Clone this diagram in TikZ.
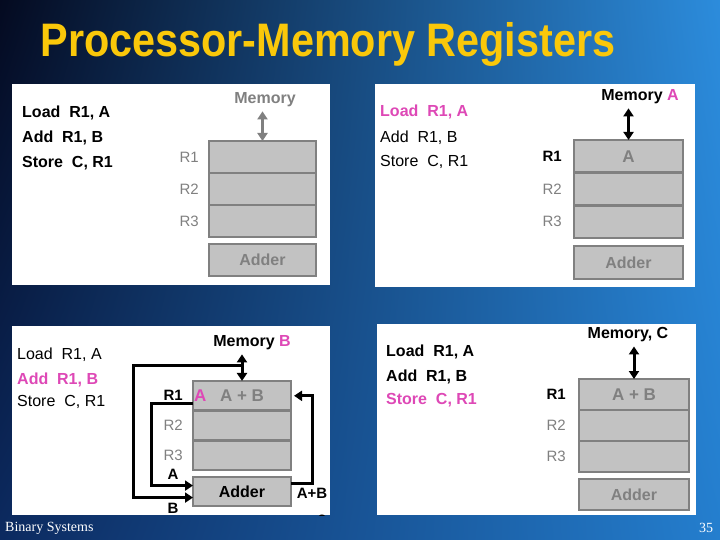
\documentclass[tikz,border=0pt]{standalone}
\usepackage{fontspec}
\setmainfont{Liberation Sans}
\newfontfamily\footfont{Liberation Serif}
\usetikzlibrary{positioning,arrows.meta,shadings}

\definecolor{titleyellow}{RGB}{250,200,10}
\definecolor{hilite}{RGB}{222,72,182}
\definecolor{reggray}{RGB}{128,128,128}
\definecolor{regfill}{RGB}{194,194,194}
\definecolor{bgtl}{RGB}{4,10,32}
\definecolor{bgtr}{RGB}{44,140,220}
\definecolor{bgbl}{RGB}{12,42,96}
\definecolor{bgbr}{RGB}{36,126,206}

\tikzset{
  panel/.style={fill=white},
  regbox/.style={draw=reggray, fill=regfill, line width=2.5pt, outer sep=0pt, inner sep=0pt,
    text=reggray, font=\fontsize{17}{17}\selectfont\bfseries},
  adderbox/.style={regbox, font=\fontsize{16}{16}\selectfont\bfseries},
  reglab/.style={inner sep=1pt, text=reggray, font=\fontsize{15}{15}\selectfont},
  instr/.style={anchor=west, inner sep=0pt, font=\fontsize{16}{16}\selectfont\bfseries},
  memlab/.style={inner sep=1pt, font=\fontsize{16}{16}\selectfont\bfseries},
  wirelab/.style={inner sep=1pt, font=\fontsize{15}{15}\selectfont\bfseries},
  bus/.style={line width=3pt, shorten <=3pt, {Triangle[width=10pt,length=8pt]}-{Triangle[width=10pt,length=8pt]}},
  wire/.style={line width=3pt, -{Triangle[width=10pt,length=8pt]}},
  titletext/.style={inner sep=0pt, font=\fontsize{47}{47}\selectfont\bfseries},
  footer/.style={inner sep=0pt, text=white, font=\footfont\fontsize{14}{14}\selectfont},
}

\begin{document}
\begin{tikzpicture}[x=1pt, y=-1pt]
\useasboundingbox (0,0) rectangle (720,540);
\shade[upper left=bgtl, upper right=bgtr, lower left=bgbl, lower right=bgbr] (0,0) rectangle (720,540);

% title
\node[titletext, text=titleyellow] (title) at (328,44) {\scalebox{0.88}[1]{Processor-Memory Registers}};

% panel 1: start
\fill[panel] (12,84) rectangle (330,285);
\begin{scope}[regbox/.append style={minimum width=107pt, minimum height=32pt}]
\node[instr] (p1i1) at (22,113) {Load\ \ R1, A};
\node[instr] (p1i2) at (22,138) {Add\ \ R1, B};
\node[instr] (p1i3) at (22,163) {Store\ \ C, R1};
\node[memlab, text=reggray] (p1mem) at (265,100) {Memory};
\node[regbox] (p1r1) at (262.5,157) {};
\node[regbox] (p1r2) [below=0pt of p1r1] {};
\node[regbox] (p1r3) [below=0pt of p1r2] {};
\node[adderbox] (p1add) [below=7pt of p1r3] {Adder};
\node[reglab] [left=9pt of p1r1] {R1};
\node[reglab] [left=9pt of p1r2] {R2};
\node[reglab] [left=9pt of p1r3] {R3};
\draw[bus, draw=reggray] (p1r1.north |- p1mem.south) -- (p1r1.north);
\end{scope}

% panel 2: load
\fill[panel] (375,84) rectangle (695,287);
\begin{scope}[regbox/.append style={minimum width=109pt, minimum height=32.7pt}]
\node[instr, text=hilite] (p2i1) at (380,112) {Load\ \ R1, A};
\node[instr, font=\fontsize{16}{16}\selectfont] (p2i2) at (380,138) {Add\ \ R1, B};
\node[instr, font=\fontsize{16}{16}\selectfont] (p2i3) at (380,162) {Store\ \ C, R1};
\node[memlab] (p2mem) at (640,97) {Memory \textcolor{hilite}{A}};
\node[regbox] (p2r1) at (628.5,156.3) {A};
\node[regbox] (p2r2) [below=0pt of p2r1] {};
\node[regbox] (p2r3) [below=0pt of p2r2] {};
\node[adderbox] (p2add) [below=8pt of p2r3] {Adder};
\node[reglab, text=black, font=\fontsize{15}{15}\selectfont\bfseries] [left=11pt of p2r1] {R1};
\node[reglab] [left=11pt of p2r2] {R2};
\node[reglab] [left=11pt of p2r3] {R3};
\draw[bus] (p2r1.north |- p2mem.south) -- (p2r1.north);
\end{scope}

% panel 3: add
\fill[panel] (12,326) rectangle (330,515);
\begin{scope}[regbox/.append style={minimum width=98pt, minimum height=29.7pt}]
\node[instr, font=\fontsize{16}{16}\selectfont] (p3i1) at (17,355) {Load\ \ R1, A};
\node[instr, text=hilite] (p3i2) at (17,380) {Add\ \ R1, B};
\node[instr, font=\fontsize{16}{16}\selectfont] (p3i3) at (17,402) {Store\ \ C, R1};
\node[memlab] (p3mem) at (252,343) {Memory \textcolor{hilite}{B}};
\node[regbox] (p3r1) at (242,395.8) {A + B};
\node[regbox] (p3r2) [below=0pt of p3r1] {};
\node[regbox] (p3r3) [below=0pt of p3r2] {};
\node[adderbox, text=black, minimum height=29pt] (p3add) [below=7pt of p3r3] {Adder};
\node[reglab, text=black, font=\fontsize{15}{15}\selectfont\bfseries] [left=9pt of p3r1] {R1};
\node[reglab] [left=9pt of p3r2] {R2};
\node[reglab] [left=9pt of p3r3] {R3};
\node[inner sep=1pt, anchor=west, text=hilite, font=\fontsize{17}{17}\selectfont\bfseries] (p3a) at (p3r1.west) {A};
\coordinate (p3tap) at (p3r1.north |- 0,365);
\coordinate (p3left) at (133,365);
\draw[bus] (p3r1.north |- p3mem.south) -- (p3r1.north);
\draw[wire] (p3tap) -- (p3left) |- ([yshift=-6pt]p3add.west);
\draw[wire] ([yshift=-8pt]p3r1.west) -- ++(-42,0) |- ([yshift=6pt]p3add.west);
\draw[wire] ([yshift=8pt]p3add.east) -- ++(21,0) |- ([xshift=3pt]p3r1.east);
\node[wirelab] (p3lblA) at (173,474) {A};
\node[wirelab] (p3lblB) at (173,508) {B};
\node[wirelab] (p3lblsum) at (312,493) {A+B};
\begin{scope}
\clip (12,326) rectangle (330,515);
\node[wirelab] (p3page) at (322,520) {2};
\end{scope}
\end{scope}

% panel 4: store
\fill[panel] (377,324) rectangle (696,515);
\begin{scope}[regbox/.append style={minimum width=110pt, minimum height=31pt}]
\node[instr] (p4i1) at (386,352) {Load\ \ R1, A};
\node[instr] (p4i2) at (386,377) {Add\ \ R1, B};
\node[instr, text=hilite] (p4i3) at (386,400) {Store\ \ C, R1};
\node[memlab] (p4mem) at (628,335) {Memory, C};
\node[regbox] (p4r1) at (634,394.5) {A + B};
\node[regbox] (p4r2) [below=0pt of p4r1] {};
\node[regbox] (p4r3) [below=0pt of p4r2] {};
\node[adderbox] (p4add) [below=7pt of p4r3] {Adder};
\node[reglab, text=black, font=\fontsize{15}{15}\selectfont\bfseries] [left=12pt of p4r1] {R1};
\node[reglab] [left=12pt of p4r2] {R2};
\node[reglab] [left=12pt of p4r3] {R3};
\draw[bus] (p4r1.north |- p4mem.south) -- (p4r1.north);
\end{scope}

% footer
\node[footer, anchor=west] (foot) at (5,528) {Binary Systems};
\node[footer] (pageno) at (706,528) {35};
\end{tikzpicture}
\end{document}
